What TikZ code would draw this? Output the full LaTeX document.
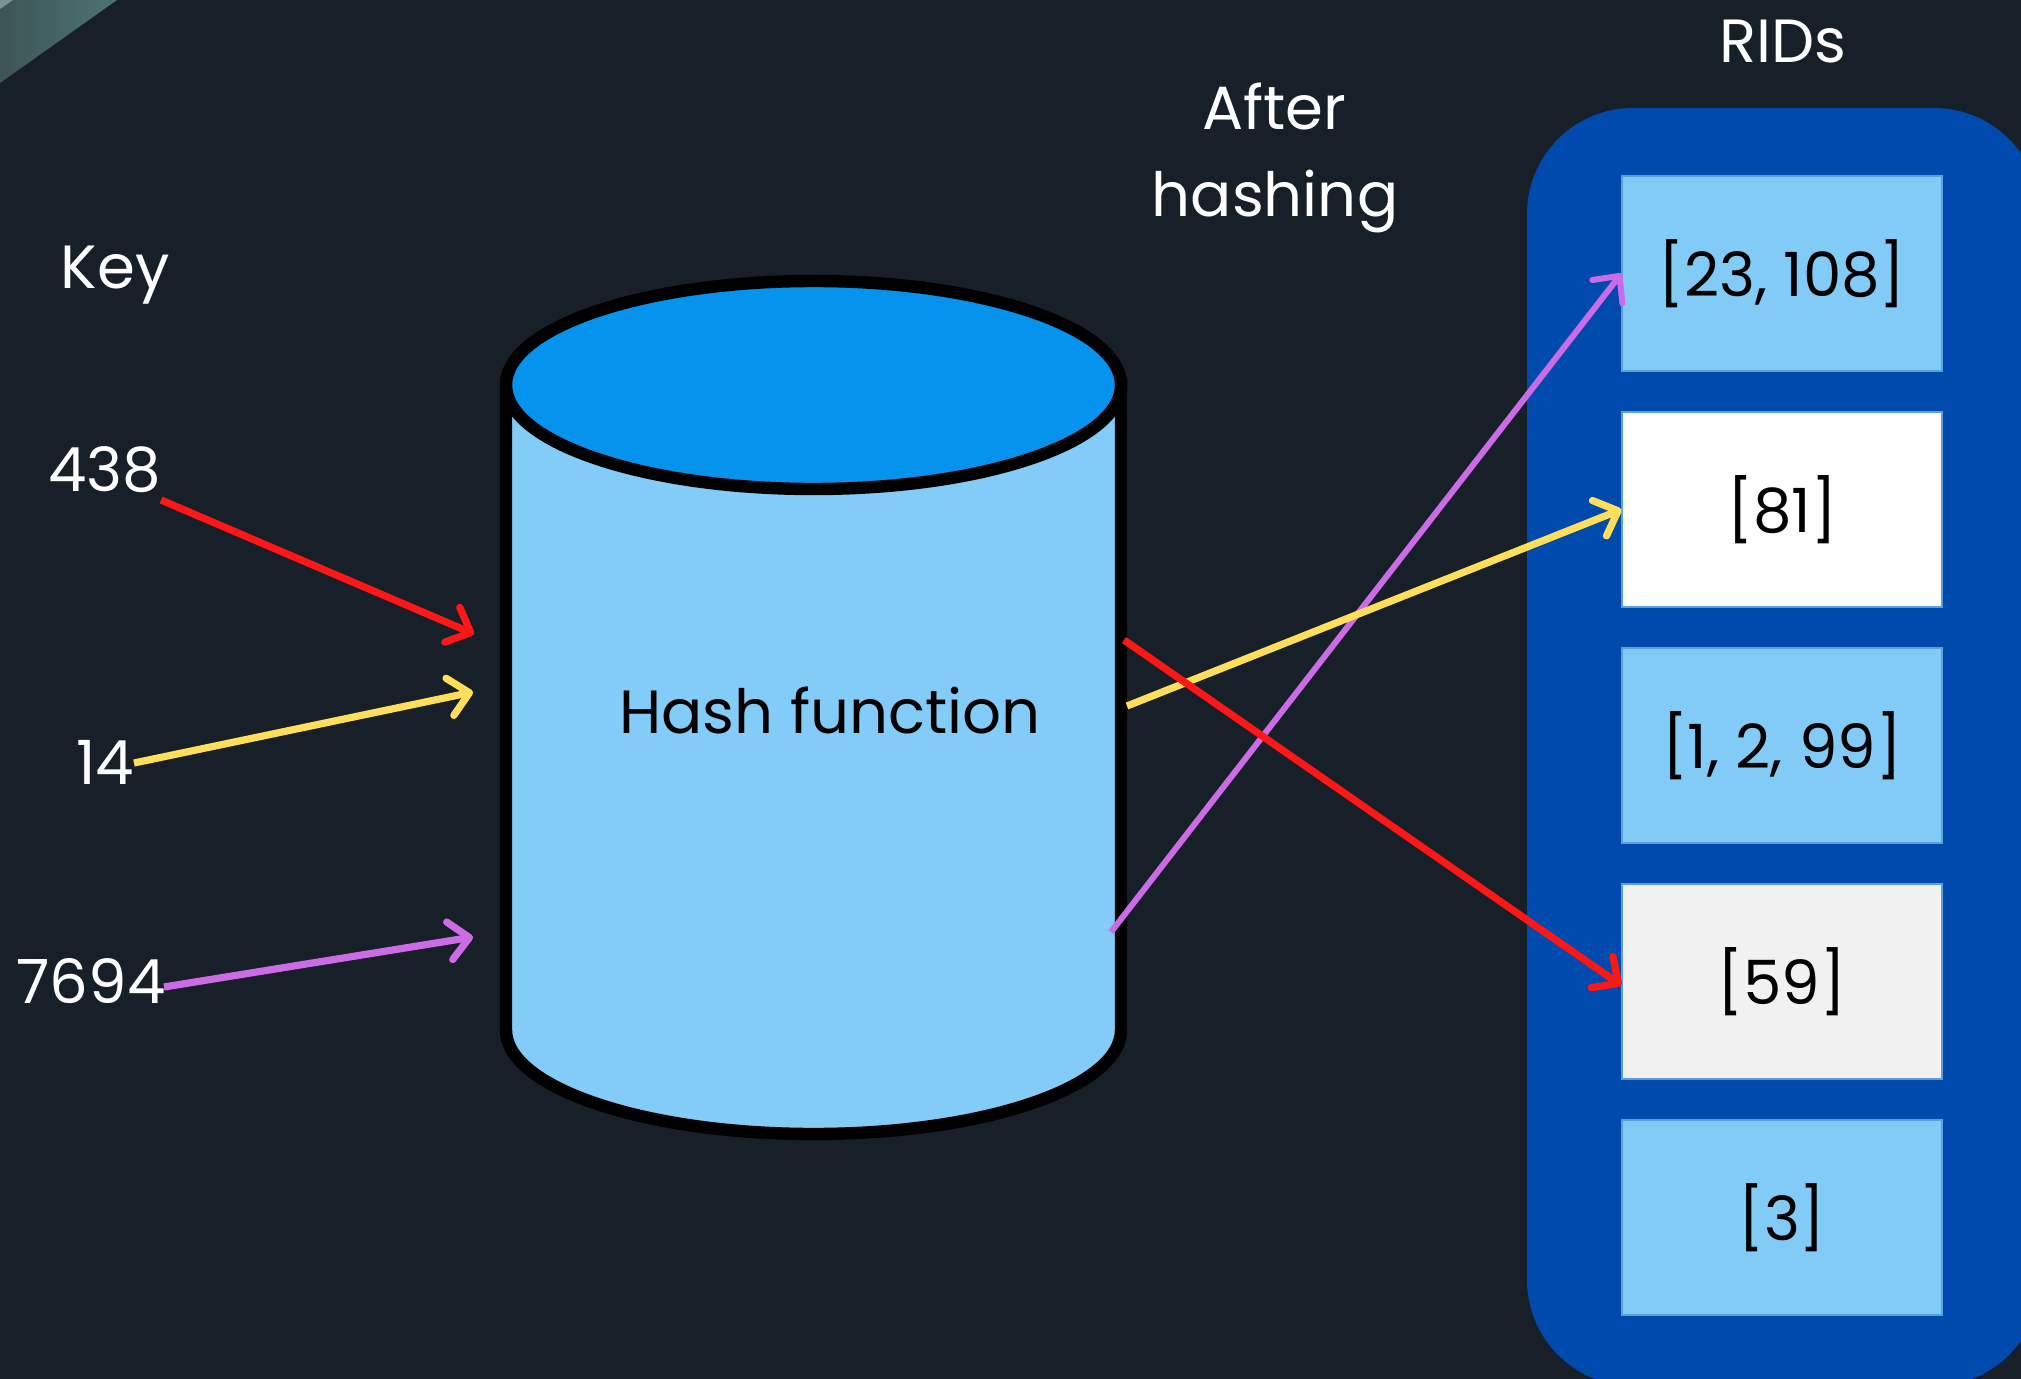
\documentclass[tikz,border=0pt]{standalone}
\usepackage{fontspec}
\setmainfont{Poppins}
\usetikzlibrary{arrows.meta}
\definecolor{bg}{HTML}{171F28}
\definecolor{panel}{HTML}{004AAD}
\definecolor{ridlight}{HTML}{83CBF7}
\definecolor{ridgray}{HTML}{F1F1F1}
\definecolor{boxedge}{HTML}{5A9FE0}
\definecolor{cylside}{HTML}{83CCF8}
\definecolor{cyltop}{HTML}{0593EE}
\definecolor{ared}{HTML}{FF1616}
\definecolor{ayellow}{HTML}{FFDE59}
\definecolor{apurple}{HTML}{CB6CE6}
\definecolor{cornerL}{HTML}{3E5456}
\definecolor{cornerR}{HTML}{4C7474}
\definecolor{cornerHi}{HTML}{7C9494}
\begin{document}
\begin{tikzpicture}[x=0.5pt,y=-0.5pt,
  lbl/.style={text=white, font=\fontsize{30.5}{36}\selectfont, anchor=base, inner sep=0pt},
  ridbox/.style={minimum width=160pt, minimum height=97.5pt, inner sep=0pt, draw=boxedge, line width=0.6pt, text=black, font=\fontsize{30.5}{36}\selectfont},
  arr/.style={line width=3.6pt, -{Straight Barb[length=10pt,width=19pt,round]}}]
% background
\fill[bg] (0,0) rectangle (2021,1379);
\useasboundingbox (0,0) rectangle (2021,1379);
\shade[left color=cornerL, right color=cornerR] (0,0) -- (117,0) -- (0,83) -- cycle;
\fill[cornerHi] (0,0) -- (13,0) -- (0,9) -- cycle;
% RIDs panel
\fill[panel, rounded corners=53pt] (1527,108) rectangle (2040,1386);
\node[ridbox, fill=ridlight] (b1) at (1782,273.5) {[23, 108]};
\node[ridbox, fill=white]    (b2) at (1782,509.5) {[81]};
\node[ridbox, fill=ridlight] (b3) at (1782,745.5) {[1, 2, 99]};
\node[ridbox, fill=ridgray]  (b4) at (1782,981.5) {[59]};
\node[ridbox, fill=ridlight] (b5) at (1782,1217.5) {[3]};
% titles
\node[lbl] (rids) at (1783,63) {RIDs};
\node[lbl] (after) at (1274,130) {After};
\node[lbl] (hashing) at (1275,217) {hashing};
\node[lbl] (key) at (115,289) {Key};
% keys
\node[lbl] (k438) at (105,491) {438};
\node[lbl] (k14) at (105,784) {14};
\node[lbl] (k7694) at (91,1003) {7694};
% cylinder
\draw[line width=6.2pt, fill=cylside] (506,385) -- (506,1030)
   arc[start angle=180, end angle=360, x radius=153.75pt, y radius=52pt]
   -- (1121,385) -- cycle;
\draw[line width=6.2pt, fill=cyltop] (813.5,385) ellipse [x radius=153.75pt, y radius=52pt];
\node[anchor=base, inner sep=0pt, font=\fontsize{30.5}{36}\selectfont] (hf) at (830,733) {Hash function};
% arrow coordinates
\coordinate (s438) at (161,500);
\coordinate (s14) at (134,763);
\coordinate (s7694) at (164,987);
\coordinate (e438) at (474,634);
\coordinate (e14) at (473,692);
\coordinate (e7694) at (473,937);
\coordinate (o438) at (1124,640);
\coordinate (o14) at (1127,706);
\coordinate (o7694) at (1111,932);
% arrows into hash function
\draw[arr, ared] (s438) -- (e438);
\draw[arr, ayellow] (s14) -- (e14);
\draw[arr, apurple] (s7694) -- (e7694);
% arrows out to RIDs
\draw[arr, apurple, line width=3pt] (o7694) -- (b1.west);
\draw[arr, ayellow] (o14) -- (b2.west);
\draw[arr, ared] (o438) -- ([yshift=-2pt]b4.west);
\end{tikzpicture}
\end{document}
